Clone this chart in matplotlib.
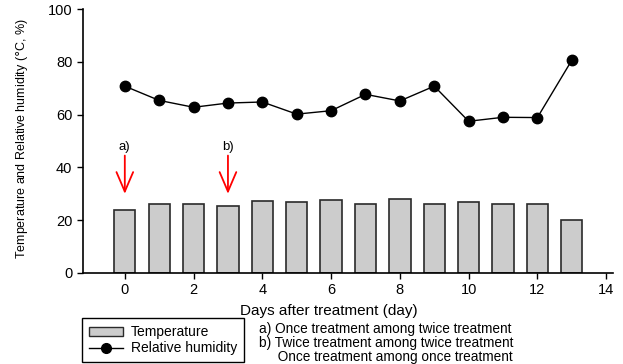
import matplotlib
matplotlib.use("Agg")
import matplotlib.pyplot as plt
from matplotlib.patches import Patch
from matplotlib.lines import Line2D

plt.rcParams['font.family'] = ['Liberation Sans', 'DejaVu Sans']

days = list(range(14))
temperature = [23.9, 26.3, 26.0, 25.4, 27.2, 27.0, 27.7, 26.3, 27.9, 26.0, 26.8, 26.0, 26.3, 20.1]
humidity = [70.8, 65.4, 62.8, 64.4, 64.8, 60.2, 61.5, 67.7, 65.2, 70.8, 57.5, 59.0, 58.9, 80.6]
treat_days = [0, 3]
treat_labels = ['a)', 'b)']
notes = ['a) Once treatment among twice treatment',
         'b) Twice treatment among twice treatment',
         '     Once treatment among once treatment']

fig = plt.figure(figsize=(6.23, 3.64), dpi=100)
ax = fig.add_axes([0.133, 0.25, 0.851, 0.725])

ax.bar(days, temperature, width=0.62, color='#cccccc', edgecolor='#2a2a2a', linewidth=1.2, zorder=2)
ax.plot(days, humidity, color='black', linewidth=1, marker='o', markersize=7.5, zorder=3)

for d, lab in zip(treat_days, treat_labels):
    ax.annotate('', xy=(d, 30), xytext=(d, 44.5),
                arrowprops=dict(arrowstyle='->, head_length=0.7, head_width=0.3',
                                color='red', lw=1.3, mutation_scale=20, shrinkA=0, shrinkB=0))
    ax.text(d, 45.5, lab, ha='center', va='bottom', fontsize=9.5)

ax.set_xlim(-1.22, 14.2)
ax.set_ylim(0, 100)
ax.set_xticks(range(0, 15, 2))
ax.set_yticks(range(0, 101, 20))
ax.tick_params(direction='out', length=4, width=1, labelsize=10.5)
for s in ['top', 'right']:
    ax.spines[s].set_visible(False)
for s in ['left', 'bottom']:
    ax.spines[s].set_linewidth(1.2)

ax.set_ylabel('Temperature and Relative humidity ($\\degree$C, %)', fontsize=9)
ax.yaxis.set_label_coords(-0.1, 0.51)
fig.text(0.528, 0.145, 'Days after treatment (day)', ha='center', va='center', fontsize=11)

handles = [Patch(facecolor='#cccccc', edgecolor='#2a2a2a', linewidth=1),
           Line2D([], [], color='black', linewidth=1, marker='o', markersize=7)]
leg = fig.legend(handles, ['Temperature', 'Relative humidity'], loc='upper left',
                 bbox_to_anchor=(0.132, 0.126), fancybox=False, framealpha=1,
                 edgecolor='black', fontsize=10, handlelength=2.4, handleheight=0.6,
                 labelspacing=0.15, borderpad=0.5, handletextpad=0.6, borderaxespad=0)
leg.get_frame().set_linewidth(1)

for i, line in enumerate(notes):
    fig.text(0.416, 0.097 - i * 0.039, line, ha='left', va='center', fontsize=9.8)

fig.savefig('out.png', dpi=100)
